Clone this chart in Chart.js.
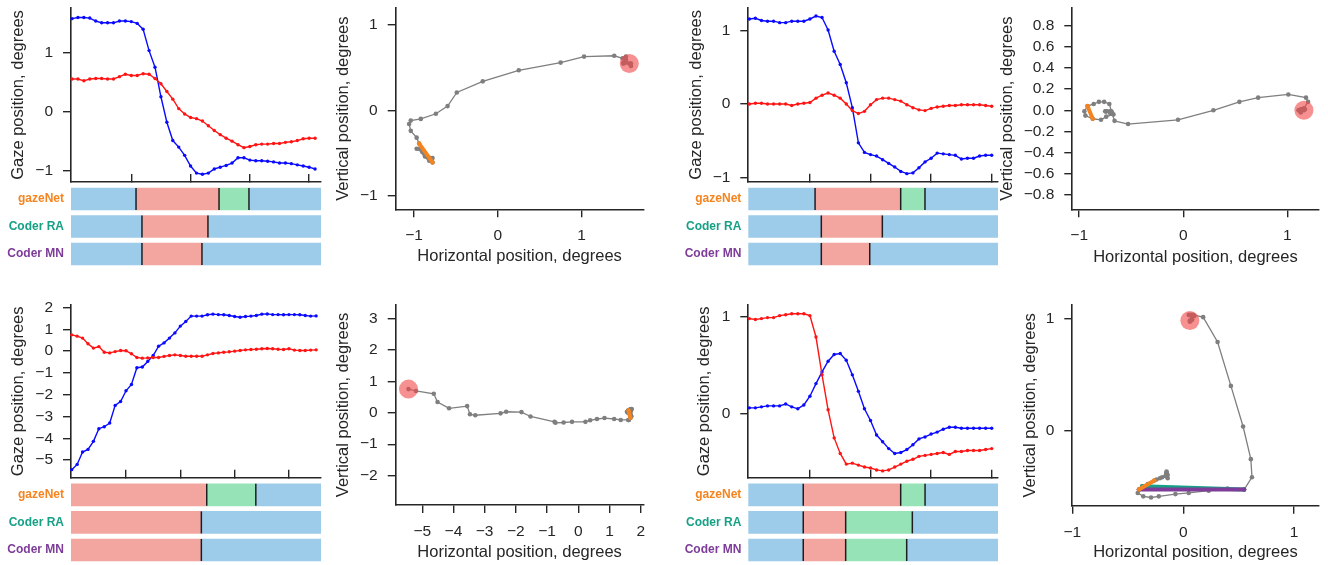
<!DOCTYPE html>
<html><head><meta charset="utf-8">
<script src="https://cdn.jsdelivr.net/npm/chart.js@4.4.1/dist/chart.umd.min.js"></script>
<style>
html,body{margin:0;padding:0;background:#fff;}
#fig{position:relative;width:1328px;height:565px;overflow:hidden;background:#fff;}
canvas{position:absolute;}
</style></head><body><div id="fig"></div>
<script>
// ---------------- data ----------------
const coders = ['gazeNet', 'Coder RA', 'Coder MN'];
const timeTicks = [10, 20, 30, 40];

// Trial 1 (top left)
const blueA = [1.57,1.59,1.59,1.58,1.53,1.50,1.50,1.50,1.53,1.53,1.52,1.49,1.39,1.03,0.75,0.25,-0.18,-0.49,-0.60,-0.74,-0.92,-1.04,-1.06,-1.04,-0.97,-0.94,-0.91,-0.87,-0.78,-0.78,-0.82,-0.83,-0.83,-0.84,-0.85,-0.87,-0.87,-0.88,-0.90,-0.92,-0.94,-0.97];
const redA  = [0.55,0.55,0.52,0.55,0.56,0.56,0.55,0.55,0.59,0.63,0.61,0.61,0.64,0.63,0.56,0.47,0.34,0.21,0.05,-0.04,-0.10,-0.12,-0.16,-0.24,-0.32,-0.39,-0.45,-0.50,-0.56,-0.61,-0.59,-0.56,-0.55,-0.55,-0.54,-0.54,-0.52,-0.51,-0.49,-0.46,-0.45,-0.45];
const evA_gazeNet = [-0.17, 10.8, 24.8, 29.85, 42.0];  const evA_gazeNetCls = ['fix','sac','pso','fix'];
const evA_RA      = [-0.17, 11.8, 22.93, 42.0];        const evA_RACls      = ['fix','sac','fix'];
const evA_MN      = [-0.17, 11.8, 21.92, 42.0];        const evA_MNCls      = ['fix','sac','fix'];
const yTicksA = [-1, 0, 1];

// Trial 2 (top right)
const blueC = [1.16,1.17,1.14,1.13,1.13,1.11,1.11,1.13,1.13,1.13,1.16,1.20,1.18,1.01,0.72,0.54,0.29,-0.05,-0.53,-0.66,-0.69,-0.71,-0.76,-0.81,-0.86,-0.92,-0.95,-0.94,-0.87,-0.79,-0.74,-0.67,-0.68,-0.69,-0.70,-0.75,-0.74,-0.74,-0.71,-0.70,-0.70];
const redC  = [0.00,0.01,0.01,0.00,0.00,0.00,0.00,-0.02,0.00,0.01,0.02,0.08,0.12,0.15,0.12,0.08,0.00,-0.09,-0.13,-0.10,-0.01,0.06,0.08,0.08,0.06,0.04,-0.01,-0.05,-0.08,-0.09,-0.06,-0.04,-0.03,-0.02,-0.02,-0.01,-0.01,-0.01,-0.01,-0.02,-0.03];
const evC_gazeNet = [-0.17, 10.85, 24.98, 28.99, 41.04]; const evC_gazeNetCls = ['fix','sac','pso','fix'];
const evC_RA      = [-0.17, 11.88, 21.95, 41.04];        const evC_RACls      = ['fix','sac','fix'];
const evC_MN      = [-0.17, 11.88, 19.87, 41.04];        const evC_MNCls      = ['fix','sac','fix'];
const yTicksC = [-1, 0, 1];

// Trial 3 (bottom left)
const blueE = [-5.44,-5.20,-4.63,-4.51,-4.14,-3.56,-3.47,-3.30,-2.49,-2.31,-1.82,-1.53,-0.76,-0.73,-0.47,-0.20,0.23,0.38,0.60,0.84,1.15,1.36,1.61,1.61,1.61,1.67,1.70,1.68,1.67,1.64,1.59,1.56,1.59,1.61,1.64,1.70,1.71,1.68,1.68,1.67,1.68,1.68,1.67,1.64,1.61,1.62];
const redE  = [0.75,0.69,0.60,0.34,0.14,0.21,-0.05,-0.08,-0.02,0.03,0.02,-0.12,-0.29,-0.32,-0.31,-0.29,-0.29,-0.24,-0.20,-0.17,-0.20,-0.23,-0.23,-0.23,-0.23,-0.17,-0.11,-0.08,-0.05,-0.03,0.00,0.03,0.06,0.08,0.09,0.11,0.12,0.11,0.09,0.08,0.11,0.05,0.03,0.03,0.05,0.06];
const evE_gazeNet = [-0.13, 24.86, 33.9, 45.9]; const evE_gazeNetCls = ['sac','pso','fix'];
const evE_RA      = [-0.13, 23.87, 45.9];       const evE_RACls      = ['sac','fix'];
const evE_MN      = [-0.13, 23.87, 45.9];       const evE_MNCls      = ['sac','fix'];
const yTicksE = [-5, -4, -3, -2, -1, 0, 1, 2];

// Trial 4 (bottom right)
const blueG = [0.06,0.06,0.07,0.08,0.08,0.08,0.10,0.07,0.05,0.09,0.18,0.31,0.43,0.54,0.61,0.62,0.55,0.40,0.23,0.05,-0.07,-0.22,-0.29,-0.36,-0.41,-0.40,-0.37,-0.32,-0.26,-0.24,-0.21,-0.19,-0.16,-0.14,-0.14,-0.15,-0.15,-0.15,-0.15,-0.15,-0.15];
const redG  = [0.98,0.97,0.98,0.99,0.99,1.01,1.02,1.03,1.03,1.03,1.01,0.79,0.40,0.04,-0.25,-0.41,-0.52,-0.51,-0.53,-0.55,-0.56,-0.58,-0.59,-0.58,-0.55,-0.52,-0.49,-0.47,-0.44,-0.43,-0.42,-0.41,-0.40,-0.42,-0.39,-0.39,-0.38,-0.38,-0.38,-0.37,-0.36];
const evG_gazeNet = [-0.17, 8.9, 24.98, 29.0, 41.04];  const evG_gazeNetCls = ['fix','sac','pso','fix'];
const evG_RA      = [-0.17, 8.9, 15.9, 26.9, 41.04];   const evG_RACls      = ['fix','sac','pso','fix'];
const evG_MN      = [-0.17, 8.9, 15.9, 25.97, 41.04];  const evG_MNCls      = ['fix','sac','pso','fix'];
const yTicksG = [0, 1];

// trajectory tick labels
const trajTicksB = {x: [-1, 0, 1], y: [-1, 0, 1]};
const trajTicksD = {x: [-1, 0, 1], y: [-0.8, -0.6, -0.4, -0.2, 0, 0.2, 0.4, 0.6, 0.8]};
const trajTicksF = {x: [-5, -4, -3, -2, -1, 0, 1, 2], y: [-2, -1, 0, 1, 2, 3]};
const trajTicksH = {x: [-1, 0, 1], y: [0, 1]};

// ---------------- style / helpers ----------------
const FONT = "'Liberation Sans', Arial, Helvetica, sans-serif";
const AX = '#262626';
const C_BLUE = '#0a0aff', C_RED = '#ff1414', C_GREY = '#7f7f7f';
const CODER_COLORS = ['#f5841f', '#17a086', '#7d3c98'];
const EVENT_COLORS = {fix: '#9dcbea', sac: '#f3a69f', pso: '#97e3b8'};

function addCanvas(left, top, right, bottom) {
  const w = right - left, h = bottom - top;
  const c = document.createElement('canvas');
  c.width = w; c.height = h;
  c.style.left = left + 'px'; c.style.top = top + 'px';
  c.style.width = w + 'px'; c.style.height = h + 'px';
  document.getElementById('fig').appendChild(c);
  return c;
}
const fmt = dec => v => (v < -1e-9 ? '\u2212' : '') + Math.abs(v).toFixed(dec);

function axis(o) {
  return {
    type: 'linear', min: o.min, max: o.max, bounds: 'data',
    afterBuildTicks: s => { s.ticks = o.ticks.map(v => ({value: v})); },
    afterFit: s => {
      if (o.horizontal) s.height = o.size; else s.width = o.size;
      s.paddingTop = s.paddingBottom = s.paddingLeft = s.paddingRight = 0;
    },
    grid: {display: true, drawOnChartArea: false, drawTicks: true, tickLength: o.tickLength ?? 8, color: AX, lineWidth: 1.4},
    border: {display: true, color: AX, width: 1.6},
    ticks: {display: o.labels !== false, padding: o.horizontal ? 9.5 : 10, color: AX,
            font: {family: FONT, size: 15.5}, callback: fmt(o.dec || 0), maxRotation: 0, minRotation: 0, autoSkip: false},
    title: o.title ? {display: true, text: o.title, color: AX, font: {family: FONT, size: 16.5}, padding: 0} : {display: false}
  };
}

function frame(r) {
  const left = Math.round(r.tx - 9.9);
  const top = Math.floor(r.T - 20);
  const right = Math.min(1328, Math.ceil(r.R + 8));
  const bottom = r.ty != null ? Math.round(r.ty + 9.9) : Math.ceil(r.B + 4);
  return {left, top, right, bottom, yW: r.L - left, xH: bottom - r.B,
          pad: {left: 0, top: r.T - top, right: right - r.R, bottom: 0}};
}
function baseOptions(pad) {
  return {responsive: false, animation: false, devicePixelRatio: 1, events: [],
          layout: {padding: pad}, plugins: {legend: {display: false}, tooltip: {enabled: false}}};
}

function timeSeries(p) {
  const f = frame(p.rect);
  const c = addCanvas(f.left, f.top, f.right, f.bottom);
  const pts = arr => arr.map((v, i) => ({x: i, y: v}));
  const line = (arr, col, order) => ({data: pts(arr), showLine: true, borderColor: col, backgroundColor: col,
    borderWidth: 1.4, pointRadius: 1.7, pointBorderWidth: 0, clip: false, order});
  new Chart(c, {type: 'scatter',
    data: {datasets: [line(p.red, C_RED, 1), line(p.blue, C_BLUE, 2)]},
    options: Object.assign(baseOptions(f.pad), {scales: {
      x: axis({min: p.xr[0], max: p.xr[1], ticks: timeTicks, horizontal: true, size: f.xH, labels: false, tickLength: -8}),
      y: axis({min: p.yr[0], max: p.yr[1], ticks: p.yTicks, size: f.yW, title: 'Gaze position, degrees'})
    }})
  });
}

const edgePlugin = {id: 'edges', afterDatasetsDraw(chart) {
  const ctx = chart.ctx; ctx.save(); ctx.strokeStyle = '#1e1e1e'; ctx.lineWidth = 1.5;
  chart.data.datasets.forEach((ds, i) => {
    if (!ds.edgeLine) return;
    chart.getDatasetMeta(i).data.forEach((el, j) => {
      if (ds.data[j] == null || !isFinite(el.x)) return;
      const px = Math.min(el.x, el.base);
      ctx.beginPath(); ctx.moveTo(px, el.y - el.height / 2); ctx.lineTo(px, el.y + el.height / 2); ctx.stroke();
    });
  });
  ctx.restore();
}};

function eventBars(p) {
  const left = p.left, right = Math.min(1328, Math.ceil(p.R + 2));
  const top = Math.floor(p.rowsTop - 4), bottom = Math.min(565, Math.ceil(p.rowsBottom + 2));
  const c = addCanvas(left, top, right, bottom);
  const datasets = [];
  p.rows.forEach(([edges, cls], r) => {
    cls.forEach((k, s) => {
      datasets.push({data: coders.map((_, j) => j === r ? [edges[s], edges[s + 1]] : null),
        backgroundColor: EVENT_COLORS[k], borderWidth: 0, grouped: false, barThickness: 22, edgeLine: s > 0});
    });
  });
  new Chart(c, {type: 'bar', data: {labels: coders, datasets},
    options: Object.assign(baseOptions({left: 0, top: p.rowsTop - top, right: right - p.R, bottom: bottom - p.rowsBottom}), {
      indexAxis: 'y',
      scales: {
        x: {type: 'linear', min: p.xr[0], max: p.xr[1], display: false},
        y: {type: 'category', offset: true, grid: {display: false, drawTicks: false}, border: {display: false},
            ticks: {padding: 7, color: ctx => CODER_COLORS[ctx.index], font: {family: FONT, size: 12, weight: 'bold'}},
            afterFit: s => { s.width = p.L - left; s.paddingTop = s.paddingBottom = s.paddingLeft = s.paddingRight = 0; }}
      }}),
    plugins: [edgePlugin]
  });
}

function psoWindow(edges, cls) {
  const s = cls.indexOf('pso');
  return s < 0 ? null : [edges[s], edges[s + 1]];
}

function trajectory(p) {
  const f = frame(p.rect);
  const c = addCanvas(f.left, f.top, f.right, f.bottom);
  const path = p.blue.map((h, i) => ({x: h, y: p.red[i]}));
  const datasets = [{data: path, showLine: true, borderColor: C_GREY, backgroundColor: C_GREY,
    borderWidth: 1.3, pointRadius: 2.3, pointBorderWidth: 0, clip: false, order: 10}];
  const drawOrder = [1, 3, 2];
  p.pso.forEach((w, k) => {
    if (!w) return;
    const idx = path.map((_, i) => i).filter(i => i > w[0] && i < w[1]);
    if (!idx.length) return;
    datasets.push({data: [path[idx[0]], path[idx[idx.length - 1]]], showLine: true,
      borderColor: CODER_COLORS[k], backgroundColor: CODER_COLORS[k], borderWidth: 4, borderCapStyle: 'round',
      pointRadius: 2, pointBorderWidth: 0, clip: false, order: drawOrder[k]});
  });
  datasets.push({data: [path[0]], backgroundColor: 'rgba(242,70,70,0.6)', pointRadius: 9.5, pointBorderWidth: 0, clip: false, order: 0});
  new Chart(c, {type: 'scatter', data: {datasets},
    options: Object.assign(baseOptions(f.pad), {scales: {
      x: axis({min: p.xr[0], max: p.xr[1], ticks: p.ticks.x, dec: 0, horizontal: true, size: f.xH, title: 'Horizontal position, degrees'}),
      y: axis({min: p.yr[0], max: p.yr[1], ticks: p.ticks.y, dec: p.decY || 0, size: f.yW, title: 'Vertical position, degrees'})
    }})
  });
}

// ---------------- build ----------------
timeSeries({rect: {L: 71, T: 8, R: 321, B: 182, tx: 19.3}, blue: blueA, red: redA, xr: [-0.17, 42.0], yr: [-1.19, 1.75], yTicks: yTicksA});
timeSeries({rect: {L: 748.3, T: 8, R: 998, B: 181.7, tx: 696.7}, blue: blueC, red: redC, xr: [-0.17, 41.04], yr: [-1.06, 1.31], yTicks: yTicksC});
timeSeries({rect: {L: 71, T: 305, R: 321, B: 477.7, tx: 19.3}, blue: blueE, red: redE, xr: [-0.13, 45.9], yr: [-5.81, 2.12], yTicks: yTicksE});
timeSeries({rect: {L: 748.3, T: 305, R: 998, B: 477.7, tx: 705}, blue: blueG, red: redG, xr: [-0.17, 41.04], yr: [-0.66, 1.12], yTicks: yTicksG});

eventBars({left: 0, L: 71, R: 321, rowsTop: 185.25, rowsBottom: 267.75, xr: [-0.17, 42.0],
  rows: [[evA_gazeNet, evA_gazeNetCls], [evA_RA, evA_RACls], [evA_MN, evA_MNCls]]});
eventBars({left: 660, L: 748.3, R: 998, rowsTop: 185.25, rowsBottom: 267.75, xr: [-0.17, 41.04],
  rows: [[evC_gazeNet, evC_gazeNetCls], [evC_RA, evC_RACls], [evC_MN, evC_MNCls]]});
eventBars({left: 0, L: 71, R: 321, rowsTop: 481, rowsBottom: 563.8, xr: [-0.13, 45.9],
  rows: [[evE_gazeNet, evE_gazeNetCls], [evE_RA, evE_RACls], [evE_MN, evE_MNCls]]});
eventBars({left: 660, L: 748.3, R: 998, rowsTop: 481, rowsBottom: 563.8, xr: [-0.17, 41.04],
  rows: [[evG_gazeNet, evG_gazeNetCls], [evG_RA, evG_RACls], [evG_MN, evG_MNCls]]});

trajectory({rect: {L: 395.7, T: 8, R: 645, B: 209.3, tx: 344.3, ty: 256}, blue: blueA, red: redA,
  xr: [-1.22, 1.74], yr: [-1.16, 1.2], ticks: trajTicksB,
  pso: [psoWindow(evA_gazeNet, evA_gazeNetCls), psoWindow(evA_RA, evA_RACls), psoWindow(evA_MN, evA_MNCls)]});
trajectory({rect: {L: 1072.3, T: 8, R: 1323, B: 209.3, tx: 1008.3, ty: 256.7}, blue: blueC, red: redC,
  xr: [-1.066, 1.30], yr: [-0.9375, 0.969], ticks: trajTicksD, decY: 1,
  pso: [psoWindow(evC_gazeNet, evC_gazeNetCls), psoWindow(evC_RA, evC_RACls), psoWindow(evC_MN, evC_MNCls)]});
trajectory({rect: {L: 395.7, T: 305, R: 645, B: 505, tx: 344.3, ty: 551.7}, blue: blueE, red: redE,
  xr: [-5.85, 2.09], yr: [-2.93, 3.42], ticks: trajTicksF,
  pso: [psoWindow(evE_gazeNet, evE_gazeNetCls), psoWindow(evE_RA, evE_RACls), psoWindow(evE_MN, evE_MNCls)]});
trajectory({rect: {L: 1072.3, T: 305, R: 1323, B: 505.7, tx: 1031, ty: 551.7}, blue: blueG, red: redG,
  xr: [-1.0, 1.22], yr: [-0.663, 1.118], ticks: trajTicksH,
  pso: [psoWindow(evG_gazeNet, evG_gazeNetCls), psoWindow(evG_RA, evG_RACls), psoWindow(evG_MN, evG_MNCls)]});
</script>
</body></html>
